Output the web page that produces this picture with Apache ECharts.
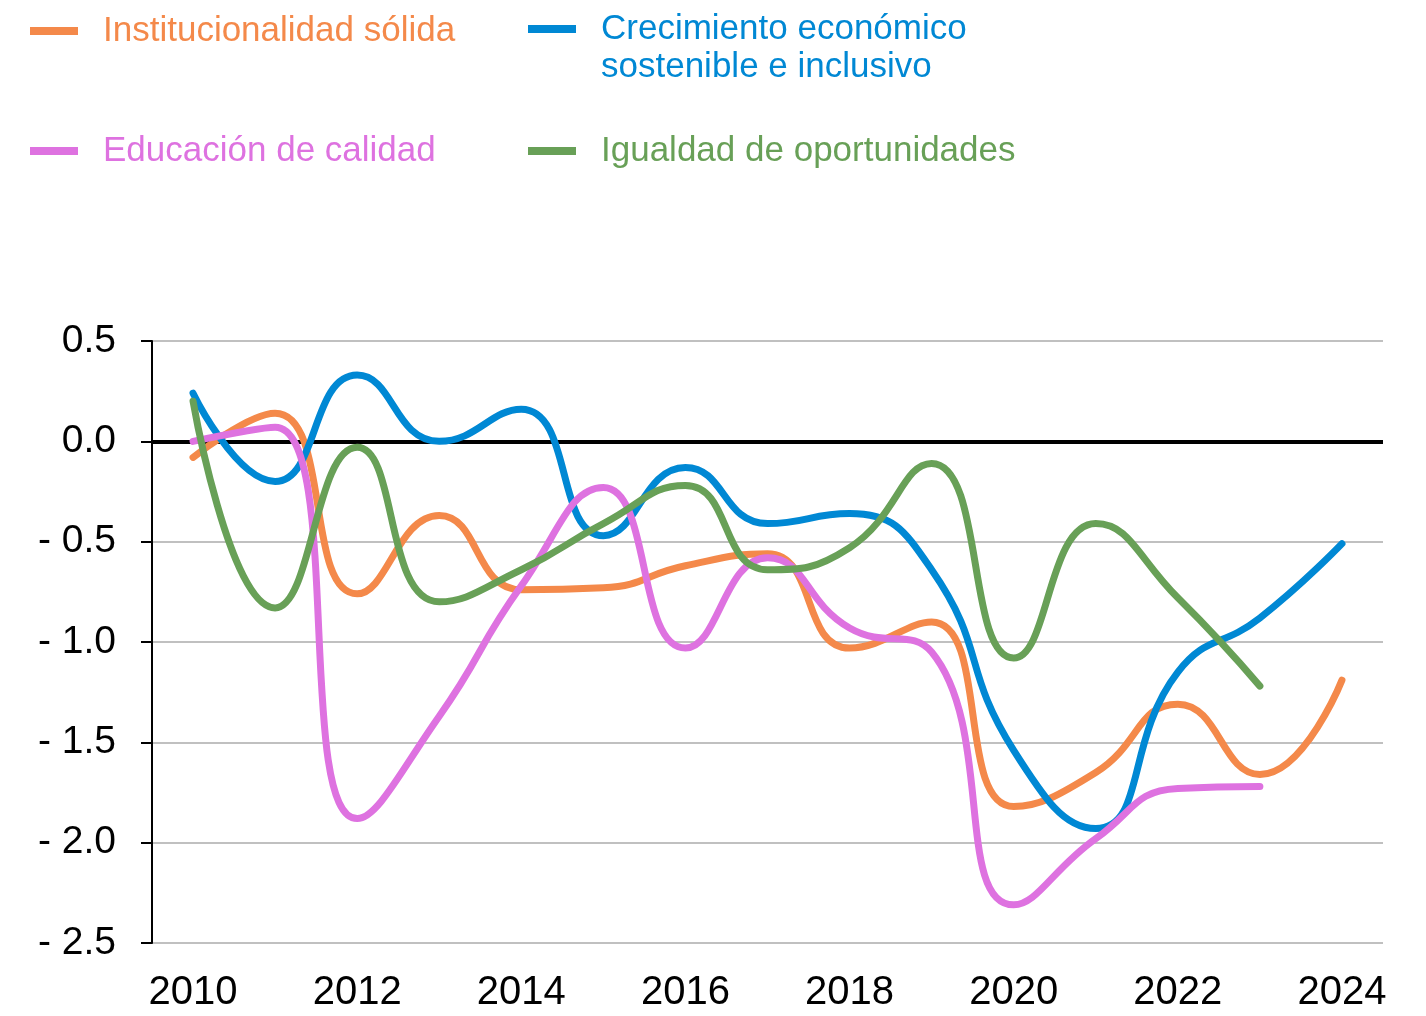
<!DOCTYPE html>
<html>
<head>
<meta charset="utf-8">
<script src="https://cdn.jsdelivr.net/npm/echarts@6/dist/echarts.min.js"></script>
<style>
  html, body { margin: 0; padding: 0; background: #fff; }
  #chart { width: 1426px; height: 1016px; }
</style>
</head>
<body>
<div id="chart"></div>
<script>
const years = ["2010", "2011", "2012", "2013", "2014", "2015", "2016", "2017",
  "2018", "2019", "2020", "2021", "2022", "2023", "2024"];

const institucionalidad = [-0.08, 0.14, -0.76, -0.37, -0.74, -0.73, -0.62, -0.56,
  -1.03, -0.9, -1.82, -1.65, -1.31, -1.66, -1.19];
const crecimiento = [0.24, -0.2, 0.33, 0.0, 0.16, -0.47, -0.13, -0.41,
  -0.36, -0.64, -1.54, -1.93, -1.15, -0.88, -0.51];
const educacion = [0.0, 0.07, -1.88, -1.37, -0.72, -0.23, -1.03, -0.58,
  -0.93, -1.05, -2.31, -1.98, -1.73, -1.72];
const igualdad = [0.2, -0.83, -0.03, -0.8, -0.64, -0.41, -0.22, -0.64,
  -0.53, -0.11, -1.08, -0.41, -0.78, -1.22];

const names = ["Institucionalidad sólida", "Crecimiento económico\nsostenible e inclusivo",
  "Educación de calidad", "Igualdad de oportunidades"];
const colors = ["#F4894A", "#0088D4", "#DE72E0", "#68A057"];

const chart = echarts.init(document.getElementById("chart"), null, { renderer: "canvas" });

const font = "'Liberation Sans', Arial, sans-serif";

function legendAt(i, left, top, formatter) {
  const lg = {
    data: [names[i]],
    left: left,
    top: top,
    icon: "rect",
    itemWidth: 48,
    itemHeight: 8,
    itemGap: 0,
    padding: 0,
    selectedMode: false,
    textStyle: {
      color: colors[i],
      fontFamily: font,
      fontSize: 35,
      lineHeight: 38,
      padding: [0, 0, 0, 20]
    }
  };
  if (formatter) lg.formatter = formatter;
  return lg;
}

function line(i, data, extra) {
  return Object.assign({
    name: names[i],
    type: "line",
    data: data,
    smooth: 0.5,
    symbol: "none",
    z: 3,
    lineStyle: { color: colors[i], width: 7, cap: "round", join: "round" },
    itemStyle: { color: colors[i] }
  }, extra || {});
}

const option = {
  animation: false,
  legend: [
    legendAt(0, 30, 12),
    // empty first line keeps the swatch level with the first text line
    legendAt(1, 528, -28, function (n) { return "\n" + n; }),
    legendAt(2, 30, 132),
    legendAt(3, 528, 132)
  ],
  grid: { left: 152, right: 43, top: 341, bottom: 73, containLabel: false },
  xAxis: {
    type: "category",
    data: years,
    boundaryGap: true,
    axisLine: { show: false },
    axisTick: { show: false },
    axisLabel: {
      interval: 1,
      margin: 30,
      color: "#000",
      fontFamily: font,
      fontSize: 40
    },
    splitLine: { show: false }
  },
  yAxis: {
    type: "value",
    min: -2.5,
    max: 0.5,
    interval: 0.5,
    axisLine: { show: true, lineStyle: { color: "#000", width: 2 } },
    axisTick: { show: true, inside: false, length: 11, lineStyle: { color: "#000", width: 2 } },
    axisLabel: {
      margin: 36,
      color: "#000",
      fontFamily: font,
      fontSize: 39,
      formatter: function (v) {
        return v < 0 ? "- " + Math.abs(v).toFixed(1) : v.toFixed(1);
      }
    },
    splitLine: { show: true, lineStyle: { color: "#C0C0C0", width: 2 } }
  },
  series: [
    line(0, institucionalidad, {
      markLine: {
        silent: true,
        symbol: "none",
        label: { show: false },
        z: 1,
        lineStyle: { color: "#000", width: 4, type: "solid" },
        data: [{ yAxis: 0 }]
      }
    }),
    line(1, crecimiento),
    line(2, educacion),
    line(3, igualdad)
  ]
};

chart.setOption(option);
</script>
</body>
</html>
